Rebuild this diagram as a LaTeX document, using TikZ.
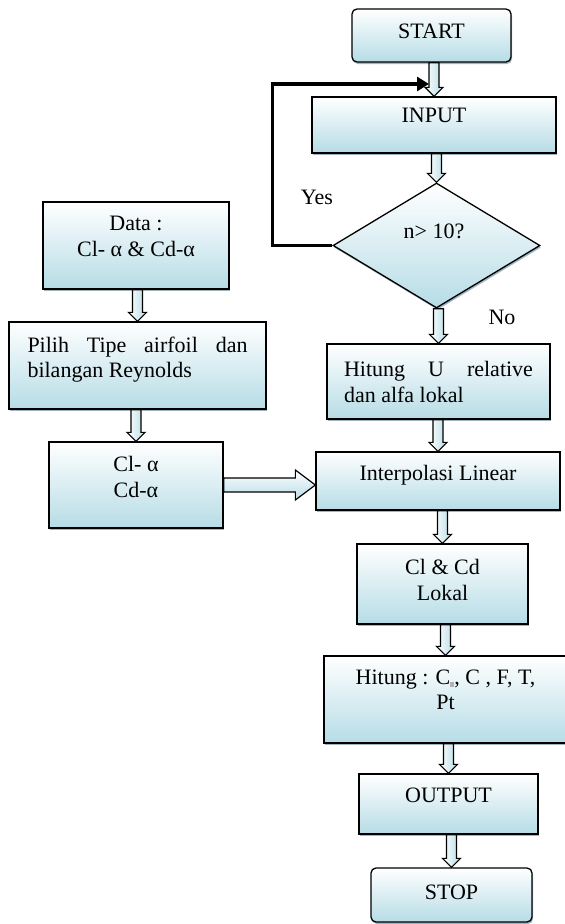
\documentclass[tikz,border=0pt]{standalone}
\usepackage{fontspec}
\setmainfont{Liberation Serif}
\usetikzlibrary{shapes.geometric,positioning,arrows.meta,calc,shadows}

\definecolor{boxblue}{RGB}{182,220,230}
\definecolor{shadowblue}{RGB}{120,150,165}

\tikzset{
  box/.style={draw, line width=1.3pt, top color=white, bottom color=boxblue, inner sep=0pt,
    drop shadow={shadow xshift=1pt, shadow yshift=-2pt, fill=shadowblue, opacity=0.7}},
  rbox/.style={box, rounded corners=5pt},
  txt/.style={inner sep=0pt, align=center, font=\fontsize{22}{25.5}\selectfont},
  vpipe/.style={draw, line width=1.2pt, left color=white, right color=boxblue, line join=miter},
  hpipe/.style={draw, line width=1.2pt, top color=white, bottom color=boxblue, line join=miter},
  loopline/.style={line width=3.5pt, line join=miter, -{Triangle[length=12pt,width=14pt]}}
}

% hollow block arrows between two points
\newcommand{\downpipe}[2]{%
  \path[vpipe] let \p1=(#1), \p2=(#2) in
    (\x2-5pt,\y1) -- (\x2+5pt,\y1) -- (\x2+5pt,\y2+9pt) -- (\x2+9pt,\y2+9pt)
    -- (\x2,\y2) -- (\x2-9pt,\y2+9pt) -- (\x2-5pt,\y2+9pt) -- cycle;}
\newcommand{\rightpipe}[2]{%
  \path[hpipe] let \p1=(#1), \p2=(#2) in
    (\x1,\y1+7pt) -- (\x2-20pt,\y1+7pt) -- (\x2-20pt,\y1+15pt) -- (\x2,\y1)
    -- (\x2-20pt,\y1-15pt) -- (\x2-20pt,\y1-7pt) -- (\x1,\y1-7pt) -- cycle;}

\begin{document}
\begin{tikzpicture}[x=1pt,y=-1pt]
\useasboundingbox (0,0) rectangle (565,924);

% main column
\node[rbox, minimum width=159, minimum height=53] (start) at (431.5,35.5) {};
\node[txt, below=15pt of start.north] (start-t) {START};
\node[box, minimum width=244, minimum height=56] (input) at (434,125) {};
\node[txt, below=12pt of input.north] (input-t) {INPUT};
\node[box, diamond, minimum width=207, minimum height=125] (dec) at (436.5,245.5) {};
\node[txt] (dec-t) at (434,231) {n> 10?};
\node[txt] (yes) at (317,197.5) {Yes};
\node[txt] (no) at (502,317.5) {No};
\node[box, minimum width=223, minimum height=75] (hitu) at (438.5,381.5) {};
\node[txt, align=justify, text width=189, below=18pt of hitu.north] (hitu-t)
  {Hitung U relative\linebreak dan alfa lokal};
\node[box, minimum width=244, minimum height=58] (interp) at (438,481) {};
\node[txt, below=14pt of interp.north] (interp-t) {Interpolasi Linear};
\node[box, minimum width=171, minimum height=80] (lokal) at (442.5,584) {};
\node[txt, below=16pt of lokal.north] (lokal-t) {Cl \& Cd\\Lokal};
\node[box, minimum width=243, minimum height=87] (hitung) at (445.5,699.5) {};
\node[txt, below=14pt of hitung.north] (hitung-t)
  {Hitung : C\raisebox{-3pt}{\color{gray!60}\rule{4pt}{5pt}}, C , F, T,\\Pt};
\node[box, minimum width=179, minimum height=60] (output) at (448.5,804) {};
\node[txt, below=14pt of output.north] (output-t) {OUTPUT};
\node[rbox, minimum width=161, minimum height=54] (stop) at (451.5,895) {};
\node[txt, below=17pt of stop.north] (stop-t) {STOP};

% left column
\node[box, minimum width=186, minimum height=87] (data) at (136,245.5) {};
\node[txt, below=15pt of data.north] (data-t) {Data :\\Cl- α \& Cd-α};
\node[box, minimum width=257, minimum height=87] (pilih) at (137.5,365.5) {};
\node[txt, align=justify, text width=220, below=15pt of pilih.north] (pilih-t)
  {Pilih Tipe airfoil dan\linebreak bilangan Reynolds};
\node[box, minimum width=174, minimum height=86] (clalpha) at (136,485) {};
\node[txt, below=15pt of clalpha.north] (clalpha-t) {Cl- α\\Cd-α};

% arrows
\downpipe{start.south}{input.north}
\downpipe{input.south}{dec.north}
\downpipe{dec.south}{hitu.north}
\downpipe{hitu.south}{interp.north}
\downpipe{interp.south}{lokal.north}
\downpipe{lokal.south}{hitung.north}
\downpipe{hitung.south}{output.north}
\downpipe{output.south}{stop.north}
\downpipe{data.south}{pilih.north}
\downpipe{pilih.south}{clalpha.north}
\rightpipe{clalpha.east}{interp.west}

% loop back to input
\coordinate (loopin) at (429,84);
\draw[loopline] (dec.west) -- ++(-60,0) |- (loopin);
\end{tikzpicture}
\end{document}
